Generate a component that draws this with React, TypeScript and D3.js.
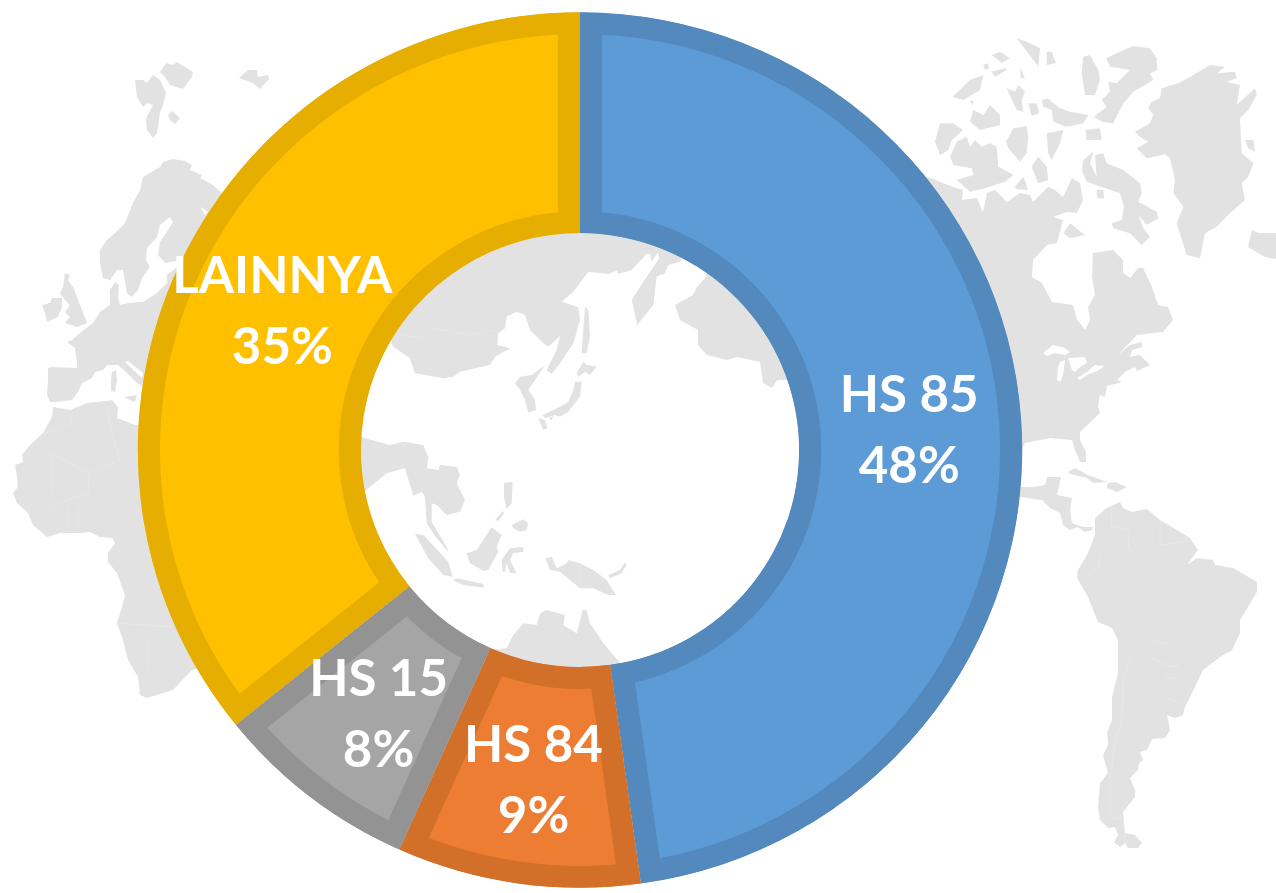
import React from "react";
import * as d3 from "d3";

const categories = ["HS 85", "HS 84", "HS 15", "LAINNYA"];
const shares = [47.8, 8.9, 7.5, 35.8];
const percentLabels = ["48%", "9%", "8%", "35%"];
const fills = ["#5B9BD5", "#ED7D31", "#A5A5A5", "#FFC000"];
const borders = ["#5289BC", "#D2702C", "#939393", "#E6AE00"];

type Pt = [number, number];

const crop = (ox: number, oy: number, pts: number[][]): Pt[] =>
  pts.map(([x, y]) => [ox + x / 3, oy + y / 3] as Pt);

const europeAfrica: Pt[][] = [
  // Svalbard and friends
  [[135,80],[143,80],[147,83],[153,75],[160,80],[166,93],[163,105],[160,113],[157,133],[153,138],[147,130],[146,118],[153,105],[147,103],[143,107],[137,97]],
  [[160,72],[166,63],[173,65],[177,62],[193,72],[192,77],[183,89],[170,85],[165,77]],
  [[168,115],[172,111],[180,118],[175,124],[170,120]],
  [[239,78],[248,70],[257,70],[258,77],[268,75],[269,79],[260,89],[253,83]],
  // Scandinavia
  [[100,250],[107,240],[115,233],[125,223],[133,203],[140,190],[143,177],[160,167],[163,162],[173,159],[185,161],[192,165],[190,170],[197,173],[202,175],[200,178],[213,185],[222,193],[300,200],[300,260],[183,260],[165,263],[158,255],[160,242],[168,230],[173,222],[170,217],[160,225],[157,237],[147,248],[146,260],[150,267],[142,278],[138,290],[132,297],[127,293],[123,270],[117,270],[110,280],[103,278],[100,263]],
  // continental Europe
  [[93,323],[100,312],[110,305],[110,290],[115,282],[119,285],[118,297],[120,305],[128,303],[143,302],[157,293],[167,283],[167,275],[177,267],[200,262],[250,420],[150,390],[137,383],[127,373],[118,365],[107,365],[103,370],[95,372],[92,378],[82,383],[78,392],[72,400],[55,402],[50,402],[47,395],[48,380],[48,368],[52,367],[77,368],[77,363],[75,348],[67,342],[72,340],[80,333]],
  [[63,287],[65,273],[70,275],[68,280],[73,287],[77,297],[82,310],[87,323],[77,327],[65,323],[70,317],[65,312],[70,305],[65,300],[60,293]],
  [[42,305],[50,303],[52,298],[62,298],[62,307],[58,317],[47,322],[45,313]],
  [[112,372],[116,370],[117,380],[115,392],[111,391],[111,380]],
  [[124,397],[137,395],[135,402],[130,400]],
  // Africa
  [[53,407],[70,410],[87,403],[107,401],[112,400],[118,407],[117,418],[135,425],[270,430],[270,650],[192,670],[173,690],[147,698],[140,695],[138,677],[128,660],[122,637],[117,623],[122,607],[125,595],[117,573],[108,562],[108,553],[115,543],[112,538],[100,537],[90,532],[80,533],[60,533],[47,537],[33,525],[28,513],[17,503],[13,493],[18,487],[17,477],[15,465],[23,462],[22,455],[30,445],[43,433],[52,417]],
] as Pt[][];

const whiteSeas: Pt[][] = [
  [[200,207],[208,212],[205,215]],
  [[125,362],[128,361],[143,373],[142,378]],
  [[1043,353],[1053,345],[1065,348],[1070,352],[1065,355],[1055,353],[1047,356]],
  [[1060,362],[1065,360],[1063,375],[1060,382],[1057,380],[1058,367]],
  [[1068,358],[1085,357],[1087,363],[1080,367],[1075,372],[1072,370]],
  [[1077,378],[1087,372],[1095,365],[1105,366],[1097,371],[1087,375],[1080,380]],
] as Pt[][];

const asiaPacific: Pt[][] = [
  crop(360, 230, [[95,340],[100,350],[150,385],[165,430],[250,445],[280,440],[300,425],[390,405],[405,380],[450,355],[412,345],[415,310],[435,295],[440,260],[470,245],[495,255],[510,300],[550,340],[565,350],[600,318],[590,360],[560,420],[575,432],[600,400],[640,340],[660,270],[655,232],[605,215],[640,185],[685,125],[745,132],[770,122],[775,132],[815,120],[860,72],[870,72],[875,95],[893,68],[898,85],[850,155],[815,210],[832,285],[880,225],[890,140],[915,130],[925,105],[960,95],[1000,0],[700,-30],[300,-30],[60,200]]),
  crop(360, 230, [[675,230],[685,240],[690,320],[680,370],[665,370],[670,300]]),
  crop(360, 230, [[650,430],[670,395],[680,405],[710,410],[690,435],[675,425],[655,440]]),
  crop(360, 230, [[548,555],[600,530],[625,515],[640,480],[645,455],[665,455],[660,500],[625,545],[600,560],[585,555],[555,565]]),
  crop(360, 230, [[535,565],[555,570],[562,595],[550,600]]),
  crop(360, 230, [[565,565],[580,558],[575,570]]),
  crop(360, 230, [[465,460],[480,440],[515,435],[555,405],[515,465],[505,480],[525,510],[528,540],[505,548],[495,510],[480,480]]),
  crop(360, 230, [[432,760],[458,755],[455,820],[440,838],[432,800]]),
  crop(360, 230, [[405,870],[428,843],[432,850],[415,873]]),
  crop(360, 230, [[455,885],[490,868],[505,880],[500,900],[480,905],[460,895]]),
  crop(360, 230, [[320,970],[350,960],[395,892],[425,915],[410,950],[415,965],[385,1020],[370,1022],[330,1000]]),
  crop(360, 230, [[425,990],[450,955],[490,950],[490,965],[460,970],[450,990],[470,1030],[450,1030],[440,1000],[435,1025],[428,1025]]),
  crop(360, 230, [[165,912],[190,915],[265,995],[278,1040],[250,1035],[205,985]]),
  crop(360, 230, [[0,620],[90,645],[130,635],[190,645],[205,680],[200,715],[235,720],[240,705],[290,710],[300,735],[290,760],[315,810],[300,845],[260,855],[230,825],[215,820],[215,875],[260,950],[265,965],[230,925],[200,880],[195,800],[185,785],[160,797],[135,715],[80,730],[0,795],[-30,700]]),
  crop(360, 230, [[278,1050],[290,1045],[370,1062],[372,1073],[310,1065]]),
  crop(360, 230, [[557,985],[575,980],[590,1015],[620,1000],[625,990],[660,1000],[700,1020],[740,1050],[768,1095],[745,1095],[700,1075],[660,1075],[630,1050],[600,1025],[570,1020]]),
  crop(360, 230, [[745,1035],[780,1020],[795,997],[800,1005],[785,1030],[750,1045]]),
  crop(360, 230, [[390,1260],[440,1255],[460,1215],[490,1180],[530,1185],[540,1150],[560,1140],[580,1145],[615,1155],[610,1185],[650,1210],[668,1140],[680,1140],[690,1180],[730,1240],[790,1310],[800,1400],[400,1400]]),
];

const americas: Pt[][] = [
  // North America, Alaska side seen through the hole
  [[707,273],[705,278],[697,287],[693,295],[675,305],[680,320],[698,330],[698,345],[707,355],[727,360],[737,357],[760,362],[763,383],[772,388],[777,380],[793,380],[950,480],[1020,497],[1042,500],[1050,508],[1060,513],[1063,525],[1070,530],[1078,527],[1085,532],[1092,530],[1093,527],[1083,527],[1072,523],[1070,510],[1072,498],[1057,495],[1061,477],[1047,477],[1045,485],[1033,487],[1020,487],[1022,473],[1022,450],[1025,443],[1050,438],[1072,440],[1075,450],[1080,462],[1086,462],[1086,452],[1080,440],[1080,432],[1100,413],[1098,407],[1100,395],[1105,397],[1107,386],[1122,382],[1117,380],[1125,372],[1135,367],[1137,371],[1150,365],[1140,355],[1130,357],[1132,350],[1142,347],[1142,342],[1130,345],[1118,355],[1137,335],[1163,332],[1173,320],[1168,307],[1158,305],[1152,287],[1143,268],[1138,268],[1130,278],[1123,273],[1123,260],[1113,250],[1093,253],[1092,277],[1095,295],[1088,307],[1090,320],[1085,330],[1080,323],[1077,320],[1073,305],[1052,302],[1042,283],[1032,277],[1033,260],[1047,245],[1057,243],[1063,220],[1053,217],[1067,212],[1077,213],[1083,200],[1080,183],[1072,178],[1063,197],[1055,190],[1048,187],[1042,193],[1033,202],[1030,195],[1020,193],[1007,202],[995,190],[987,193],[983,212],[977,198],[962,200],[963,190],[953,187],[928,177],[800,200]],
  [[1068,472],[1075,468],[1088,475],[1107,482],[1093,483],[1087,478],[1070,474]],
  [[1108,483],[1115,482],[1127,487],[1117,492],[1107,488]],
  // South America
  [[1095,518],[1107,508],[1120,502],[1123,508],[1132,512],[1147,509],[1160,520],[1177,530],[1190,538],[1198,550],[1187,565],[1197,558],[1213,560],[1215,565],[1233,568],[1257,582],[1257,592],[1240,620],[1240,633],[1232,650],[1220,657],[1203,670],[1195,687],[1185,707],[1183,715],[1175,718],[1167,715],[1170,730],[1165,738],[1152,739],[1147,750],[1140,752],[1143,760],[1139,763],[1138,770],[1130,778],[1135,790],[1135,797],[1123,812],[1125,833],[1135,835],[1142,843],[1138,848],[1128,848],[1125,843],[1120,847],[1114,842],[1118,835],[1115,827],[1108,828],[1100,820],[1098,807],[1100,783],[1108,773],[1103,755],[1108,745],[1108,740],[1107,733],[1112,720],[1112,697],[1118,673],[1118,640],[1112,628],[1098,622],[1088,597],[1077,578],[1078,570],[1088,553],[1095,535]],
  [[1248,247],[1252,230],[1258,233],[1265,233],[1276,233],[1280,260],[1265,257],[1253,250]],
  ...[
    [[645,335],[690,310],[700,285],[685,265],[695,245],[720,235],[725,205],[775,190],[820,165],[870,135],[915,140],[890,160],[945,155],[950,175],[920,185],[960,195],[950,255],[1005,205],[1010,225],[985,270],[960,295],[965,400],[1000,430],[985,470],[965,490],[975,540],[930,580],[890,620],[855,640],[840,715],[800,705],[770,610],[790,560],[760,520],[765,480],[750,415],[735,403],[680,415],[650,385],[685,365],[660,350]],
    [[975,360],[1000,360],[1005,395],[985,385]],
    [[558,115],[600,95],[640,78],[690,85],[710,115],[712,150],[690,160],[700,180],[640,215],[610,250],[580,310],[545,305],[522,290],[560,260],[545,240],[570,215],[565,185],[590,190],[630,150],[570,140]],
    [[490,110],[510,105],[535,150],[540,180],[525,225],[495,225],[485,160]],
    [[365,240],[385,235],[395,245],[420,265],[450,275],[505,285],[490,310],[440,320],[400,305],[395,270],[370,260]],
    [[497,330],[540,325],[545,360],[500,360]],
    [[490,420],[520,395],[510,430],[530,470],[525,405],[550,400],[560,430],[610,450],[660,490],[665,520],[655,545],[710,575],[715,595],[680,615],[655,585],[670,625],[690,650],[665,675],[630,640],[580,625],[575,610],[605,600],[612,560],[600,520],[500,485],[485,450]],
    [[530,510],[550,510],[552,535],[532,535]],
    [[430,640],[450,610],[495,645],[450,655]],
    [[90,410],[110,365],[140,350],[150,380],[165,360],[185,380],[210,370],[230,380],[235,440],[280,465],[255,485],[195,505],[150,515],[110,480],[160,465],[155,445],[100,435]],
    [[45,365],[60,310],[100,310],[130,330],[95,360],[85,390],[60,405]],
    [[280,325],[320,318],[325,350],[320,400],[300,425],[265,385],[258,365]],
    [[380,340],[430,330],[420,370],[395,420],[385,400]],
    [[335,440],[355,410],[380,440],[385,480],[355,490]],
    [[285,500],[310,470],[325,510],[290,508]],
    [[150,305],[160,270],[190,285],[210,255],[240,285],[240,315],[180,330]],
    [[260,205],[285,215],[295,195],[315,215],[305,240],[310,275],[290,270]],
    [[325,250],[350,250],[358,280],[335,288]],
    [[290,55],[320,65],[360,85],[355,140],[325,100]],
    [[380,95],[395,95],[408,130],[380,135]],
    [[300,140],[315,175],[302,175]],
    [[98,230],[150,180],[190,165],[180,210],[130,240]],
    [[215,155],[255,145],[260,150],[225,170]],
    [[215,105],[240,95],[270,115],[245,128]],
    [[190,135],[205,130],[207,145],[195,150]],
    [[150,245],[160,240],[160,255]],
  ].map((pts) => crop(920, 20, pts)),
] as Pt[][];

// thin country borders
const borderLines: Pt[][] = [
  crop(0, 330, [[135,310],[210,285],[220,240]]),
  crop(0, 330, [[155,370],[155,490]]),
  crop(0, 330, [[155,370],[265,430],[360,390],[335,310],[320,230]]),
  crop(0, 330, [[265,430],[265,490],[215,505],[140,540]]),
  crop(0, 330, [[205,530],[205,610]]),
  crop(0, 330, [[235,530],[235,610]]),
  crop(0, 330, [[355,880],[515,890]]),
  crop(0, 330, [[445,930],[445,1020]]),
  crop(1040, 550, [[180,20],[175,50],[140,75]]),
  crop(1040, 550, [[275,310],[250,390],[245,520],[225,570],[210,700],[210,800],[250,810],[255,880]]),
  crop(1040, 550, [[330,320],[385,350],[415,345],[375,385],[415,385]]),
  crop(1040, 550, [[310,315],[345,275],[380,280]]),
  crop(1040, 550, [[375,440],[430,465]]),
  crop(1000, 300, [[335,620],[335,680],[385,690],[385,750],[415,760]]),
  crop(1000, 300, [[480,665],[480,735],[555,725]]),
  crop(360, 230, [[110,312],[190,325],[225,295],[330,315],[400,300]]),
  crop(360, 230, [[660,1000],[660,1075]]),
];

const cx = 580;
const cy = 450;
const outerR = 440;
const innerR = 218;
const labelR = 330;
// the ring in the picture is a touch wider than tall
const ringTransform = `translate(${cx},${cy}) scale(1.005,0.995)`;

const landPath = d3.line().curve(d3.curveLinearClosed);
const borderPath = d3.line();

export default function App() {
  const pieData = d3.pie<number>().sort(null).value((d) => d)(shares);
  const arc = d3.arc<d3.PieArcDatum<number>>().innerRadius(innerR).outerRadius(outerR);
  const labelArc = d3.arc<d3.PieArcDatum<number>>().innerRadius(labelR).outerRadius(labelR);

  return (
    <svg
      width={1276}
      height={893}
      style={{ position: "absolute", left: 0, top: 0, display: "block", background: "#fff" }}
    >
      <defs>
        <filter id="soft" x="-5%" y="-5%" width="110%" height="110%">
          <feGaussianBlur stdDeviation="0.6" />
        </filter>
        {pieData.map((d, i) => (
          <clipPath id={`slice-${i}`} key={i}>
            <path d={arc(d) || ""} transform={ringTransform} />
          </clipPath>
        ))}
      </defs>

      {/* map behind the ring */}
      <g filter="url(#soft)">
        {[...europeAfrica, ...asiaPacific, ...americas].map((pts, i) => (
          <path key={i} d={landPath(pts) || ""} fill="#E2E2E2" />
        ))}
        {whiteSeas.map((pts, i) => (
          <path key={i} d={landPath(pts) || ""} fill="#fff" />
        ))}
        {borderLines.map((pts, i) => (
          <path key={i} d={borderPath(pts) || ""} fill="none" stroke="#EAEAEA" strokeWidth={0.7} />
        ))}
      </g>

      {/* ring: the border sits inside each slice, so stroke double and clip */}
      <g filter="url(#soft)">
        {pieData.map((d, i) => (
          <g key={i} clipPath={`url(#slice-${i})`}>
            <path
              d={arc(d) || ""}
              transform={ringTransform}
              fill={fills[i]}
              stroke={borders[i]}
              strokeWidth={44}
              strokeLinejoin="miter"
            />
          </g>
        ))}
      </g>

      {pieData.map((d, i) => {
        const [lx, ly] = labelArc.centroid(d);
        return (
          <text
            key={i}
            x={cx + lx}
            y={cy + ly}
            textAnchor="middle"
            fill="#fff"
            fontFamily="Lato, 'Open Sans', sans-serif"
            fontWeight={700}
            fontSize={51}
          >
            <tspan x={cx + lx} dy={-15}>{categories[i]}</tspan>
            <tspan x={cx + lx} dy={71}>{percentLabels[i]}</tspan>
          </text>
        );
      })}
    </svg>
  );
}
